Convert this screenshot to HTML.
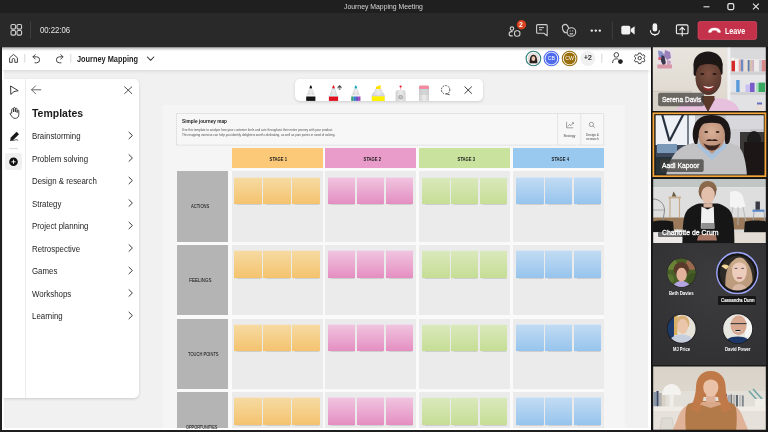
<!DOCTYPE html>
<html><head><meta charset="utf-8">
<style>
*{margin:0;padding:0;box-sizing:border-box}
html,body{width:768px;height:432px;overflow:hidden;background:#1f1f1f;font-family:"Liberation Sans",Arial,sans-serif}
.a{position:absolute}
#title{left:0;top:0;width:768px;height:13px;background:#1f1f1f}
#tb{left:0;top:13px;width:768px;height:34px;background:#292929}
.t{position:absolute;white-space:nowrap;line-height:1;transform-origin:0 0}
#wb{left:2px;top:47px;width:649px;height:382.5px;background:#fff;overflow:hidden}
#cv{left:4.2px;top:70px;width:644.2px;height:357.6px;background:#f1f1f1;overflow:hidden}
#cvi{left:-4.2px;top:-70px;width:768px;height:432px}
#wbi{left:-2px;top:-47px;width:768px;height:432px}
#wbbar{left:2px;top:47px;width:649px;height:23px;background:#fff;box-shadow:0 1px 4px rgba(0,0,0,.12)}
.li{position:absolute;left:31.7px;font-size:8.8px;color:#242424;white-space:nowrap;line-height:1;transform-origin:0 0;transform:scaleX(.895)}
.sn{position:absolute;width:27.5px;height:27.7px}
</style></head><body>

<div id="title" class="a">
  <div class="t" style="left:344.3px;top:2.9px;font-size:8px;color:#d6d6d6;transform:scaleX(.857)">Journey Mapping Meeting</div>
  <svg class="a" style="left:700px;top:0" width="68" height="13" viewBox="0 0 68 13">
    <path d="M3.5 6.8h6" stroke="#e6e6e6" stroke-width="1.1"/>
    <rect x="27.9" y="3.7" width="5.8" height="5.8" rx="1.2" fill="none" stroke="#e6e6e6" stroke-width="1.25"/>
    <path d="M53 3.6l5.8 5.8M58.8 3.6l-5.8 5.8" stroke="#e6e6e6" stroke-width="1.1"/>
  </svg>
</div>
<div id="tb" class="a">
  <svg class="a" style="left:0;top:0" width="768" height="34" viewBox="0 13 768 34">
    <!-- grid icon -->
    <g fill="none" stroke="#d0d0d0" stroke-width="1.1">
      <rect x="11" y="24.5" width="4.6" height="4.6" rx="1.3"/>
      <rect x="17" y="24.5" width="4.6" height="4.6" rx="1.3"/>
      <rect x="11" y="30.5" width="4.6" height="4.6" rx="1.3"/>
      <rect x="17" y="30.5" width="4.6" height="4.6" rx="1.3"/>
    </g>
    <path d="M30.5 21.5v17" stroke="#3f3f3f" stroke-width="1"/>
    <!-- participants -->
    <g fill="none" stroke="#cfcfcf" stroke-width="1.1">
      <circle cx="512" cy="28.6" r="1.75"/>
      <path d="M512.6 31.6h-1.2c-1.4 0-2.3 0.9-2.3 2.2v0.1c0 1.3 1 2 2.4 2h1.2"/>
      <rect x="514.5" y="30.8" width="5.4" height="5.4" rx="2.2"/>
    </g>
    <circle cx="521.5" cy="24.8" r="5.6" fill="#292929"/>
    <circle cx="521.5" cy="24.8" r="4.7" fill="#d9401f"/>
    <!-- chat -->
    <g fill="none" stroke="#cfcfcf" stroke-width="1.1">
      <path d="M537.6 24.6h8.6a1 1 0 0 1 1 1v10.2l-3.4-2.6h-6.2a1 1 0 0 1-1-1v-6.6a1 1 0 0 1 1-1z" stroke-linejoin="round"/>
      <path d="M539 27.6h5M539 29.8h3.2" stroke-width="1"/>
    </g>
    <!-- reactions -->
    <g fill="none" stroke="#cfcfcf" stroke-width="1.1">
      <ellipse cx="565.6" cy="28.6" rx="3" ry="4.2" transform="rotate(-18 565.6 28.6)"/>
      <circle cx="571.4" cy="32" r="4.3" fill="#292929"/>
      <path d="M569.7 33.5c1.1 0.7 2.3 0.7 3.4 0"/>
    </g>
    <circle cx="570.1" cy="30.9" r="0.55" fill="#cfcfcf"/><circle cx="572.7" cy="30.9" r="0.55" fill="#cfcfcf"/>
    <!-- more -->
    <g fill="#ececec"><circle cx="591.8" cy="30.6" r="1.2"/><circle cx="595.8" cy="30.6" r="1.2"/><circle cx="599.8" cy="30.6" r="1.2"/></g>
    <path d="M612.3 21.8v17.6" stroke="#3f3f3f" stroke-width="1"/>
    <!-- camera -->
    <rect x="621.3" y="25.8" width="9" height="8.6" rx="1.6" fill="#f2f2f2"/>
    <path d="M630.8 29l3.8-2.8v8.2l-3.8-2.8z" fill="#f2f2f2"/>
    <!-- mic -->
    <rect x="652.6" y="23.2" width="4.6" height="8.4" rx="2.3" fill="#f2f2f2"/>
    <path d="M650.4 30.2c0 3 2 4.4 4.5 4.4s4.5-1.4 4.5-4.4M654.9 34.6v1.4" fill="none" stroke="#f2f2f2" stroke-width="1.1"/>
    <!-- share -->
    <g fill="none" stroke="#f2f2f2" stroke-width="1.1">
      <rect x="676.4" y="24.9" width="11.6" height="8.8" rx="1.3"/>
      <path d="M682.2 36.2v-8.6M679.5 30.1l2.7-2.7 2.7 2.7"/>
    </g>
    <!-- leave -->
    <rect x="697.2" y="20.9" width="60.2" height="19.2" rx="2.4" fill="#161c1c"/><rect x="698" y="21.6" width="58.7" height="17.8" rx="1.8" fill="#c4314b" stroke="#d94a62" stroke-width="0.8"/>
    <path d="M708.6 31.4c0.2-1.8 2.6-3.3 5.9-3.3s5.7 1.5 5.9 3.3l-0.2 1.2-2.8-0.5-0.3-1.5c-1.7-0.6-3.5-0.6-5.2 0l-0.3 1.5-2.8 0.5z" fill="#fff" stroke="#fff" stroke-width="0.5" stroke-linejoin="round"/>
  </svg>
  <div class="t" style="left:39.9px;top:12.5px;font-size:8.6px;color:#e8e8e8;transform:scaleX(.9)">00:22:06</div>
  <div class="t" style="left:519px;top:9px;font-size:6.9px;font-weight:bold;color:#fff">2</div>
  <div class="t" style="left:725.2px;top:13.9px;font-size:8.7px;font-weight:bold;color:#fff;transform:scaleX(.82)">Leave</div>
</div>

<div id="wb" class="a"><div id="wbi" class="a">
<div id="cv" class="a"><div id="cvi" class="a">

<div class="a" style="left:163.4px;top:104.5px;width:461.6px;height:330px;background:#f5f5f5"></div>
<div class="a" style="left:231.6px;top:148.4px;width:372.6px;height:300px;background:#fafafa"></div>
<div class="a" style="left:176.7px;top:171.4px;width:427.5px;height:300px;background:#fafafa"></div>
<svg class="a" style="left:175px;top:112px" width="431" height="35" viewBox="175 112 431 35">
<rect x="176.5" y="113.5" width="427.2" height="31.6" fill="#f7f7f7" stroke="#cacaca" stroke-width="0.6" stroke-dasharray="1.4 0.6"/>
<path d="M557.6 113.5v31.6M580.8 113.5v31.6" stroke="#cacaca" stroke-width="0.6" stroke-dasharray="1.4 0.6"/>
</svg>
<div class="a" style="left:231.6px;top:148.4px;width:91.0px;height:19.7px;background:#fbc978"></div>
<div class="t" style="left:233.2px;top:156.5px;width:91.0px;text-align:center;font-size:5.4px;font-weight:bold;color:#1a1a1a"><span style="display:inline-block;transform:scaleX(.77)">STAGE 1</span></div>
<div class="a" style="left:231.6px;top:171.4px;width:91.0px;height:70.2px;background:#ebebeb"></div>
<div class="sn" style="left:234.4px;top:176.6px;background:linear-gradient(#f6dba4,#f4c36e);box-shadow:0 0.6px 0.8px rgba(0,0,0,.12),inset 0 0.7px 0 rgba(235,240,255,.7)"></div>
<div class="sn" style="left:263.3px;top:176.6px;background:linear-gradient(#f6dba4,#f4c36e);box-shadow:0 0.6px 0.8px rgba(0,0,0,.12),inset 0 0.7px 0 rgba(235,240,255,.7)"></div>
<div class="sn" style="left:292.3px;top:176.6px;background:linear-gradient(#f6dba4,#f4c36e);box-shadow:0 0.6px 0.8px rgba(0,0,0,.12),inset 0 0.7px 0 rgba(235,240,255,.7)"></div>
<div class="a" style="left:231.6px;top:244.9px;width:91.0px;height:70.2px;background:#ebebeb"></div>
<div class="sn" style="left:234.4px;top:250.1px;background:linear-gradient(#f6dba4,#f4c36e);box-shadow:0 0.6px 0.8px rgba(0,0,0,.12),inset 0 0.7px 0 rgba(235,240,255,.7)"></div>
<div class="sn" style="left:263.3px;top:250.1px;background:linear-gradient(#f6dba4,#f4c36e);box-shadow:0 0.6px 0.8px rgba(0,0,0,.12),inset 0 0.7px 0 rgba(235,240,255,.7)"></div>
<div class="sn" style="left:292.3px;top:250.1px;background:linear-gradient(#f6dba4,#f4c36e);box-shadow:0 0.6px 0.8px rgba(0,0,0,.12),inset 0 0.7px 0 rgba(235,240,255,.7)"></div>
<div class="a" style="left:231.6px;top:318.6px;width:91.0px;height:70.2px;background:#ebebeb"></div>
<div class="sn" style="left:234.4px;top:323.8px;background:linear-gradient(#f6dba4,#f4c36e);box-shadow:0 0.6px 0.8px rgba(0,0,0,.12),inset 0 0.7px 0 rgba(235,240,255,.7)"></div>
<div class="sn" style="left:263.3px;top:323.8px;background:linear-gradient(#f6dba4,#f4c36e);box-shadow:0 0.6px 0.8px rgba(0,0,0,.12),inset 0 0.7px 0 rgba(235,240,255,.7)"></div>
<div class="sn" style="left:292.3px;top:323.8px;background:linear-gradient(#f6dba4,#f4c36e);box-shadow:0 0.6px 0.8px rgba(0,0,0,.12),inset 0 0.7px 0 rgba(235,240,255,.7)"></div>
<div class="a" style="left:231.6px;top:392.2px;width:91.0px;height:70.2px;background:#ebebeb"></div>
<div class="sn" style="left:234.4px;top:397.4px;background:linear-gradient(#f6dba4,#f4c36e);box-shadow:0 0.6px 0.8px rgba(0,0,0,.12),inset 0 0.7px 0 rgba(235,240,255,.7)"></div>
<div class="sn" style="left:263.3px;top:397.4px;background:linear-gradient(#f6dba4,#f4c36e);box-shadow:0 0.6px 0.8px rgba(0,0,0,.12),inset 0 0.7px 0 rgba(235,240,255,.7)"></div>
<div class="sn" style="left:292.3px;top:397.4px;background:linear-gradient(#f6dba4,#f4c36e);box-shadow:0 0.6px 0.8px rgba(0,0,0,.12),inset 0 0.7px 0 rgba(235,240,255,.7)"></div>
<div class="a" style="left:325.0px;top:148.4px;width:91.0px;height:19.7px;background:#e99bc9"></div>
<div class="t" style="left:326.6px;top:156.5px;width:91.0px;text-align:center;font-size:5.4px;font-weight:bold;color:#1a1a1a"><span style="display:inline-block;transform:scaleX(.77)">STAGE 2</span></div>
<div class="a" style="left:325.0px;top:171.4px;width:91.0px;height:70.2px;background:#ebebeb"></div>
<div class="sn" style="left:327.8px;top:176.6px;background:linear-gradient(#f1c6e0,#e48ec1);box-shadow:0 0.6px 0.8px rgba(0,0,0,.12),inset 0 0.7px 0 rgba(235,240,255,.7)"></div>
<div class="sn" style="left:356.7px;top:176.6px;background:linear-gradient(#f1c6e0,#e48ec1);box-shadow:0 0.6px 0.8px rgba(0,0,0,.12),inset 0 0.7px 0 rgba(235,240,255,.7)"></div>
<div class="sn" style="left:385.7px;top:176.6px;background:linear-gradient(#f1c6e0,#e48ec1);box-shadow:0 0.6px 0.8px rgba(0,0,0,.12),inset 0 0.7px 0 rgba(235,240,255,.7)"></div>
<div class="a" style="left:325.0px;top:244.9px;width:91.0px;height:70.2px;background:#ebebeb"></div>
<div class="sn" style="left:327.8px;top:250.1px;background:linear-gradient(#f1c6e0,#e48ec1);box-shadow:0 0.6px 0.8px rgba(0,0,0,.12),inset 0 0.7px 0 rgba(235,240,255,.7)"></div>
<div class="sn" style="left:356.7px;top:250.1px;background:linear-gradient(#f1c6e0,#e48ec1);box-shadow:0 0.6px 0.8px rgba(0,0,0,.12),inset 0 0.7px 0 rgba(235,240,255,.7)"></div>
<div class="sn" style="left:385.7px;top:250.1px;background:linear-gradient(#f1c6e0,#e48ec1);box-shadow:0 0.6px 0.8px rgba(0,0,0,.12),inset 0 0.7px 0 rgba(235,240,255,.7)"></div>
<div class="a" style="left:325.0px;top:318.6px;width:91.0px;height:70.2px;background:#ebebeb"></div>
<div class="sn" style="left:327.8px;top:323.8px;background:linear-gradient(#f1c6e0,#e48ec1);box-shadow:0 0.6px 0.8px rgba(0,0,0,.12),inset 0 0.7px 0 rgba(235,240,255,.7)"></div>
<div class="sn" style="left:356.7px;top:323.8px;background:linear-gradient(#f1c6e0,#e48ec1);box-shadow:0 0.6px 0.8px rgba(0,0,0,.12),inset 0 0.7px 0 rgba(235,240,255,.7)"></div>
<div class="sn" style="left:385.7px;top:323.8px;background:linear-gradient(#f1c6e0,#e48ec1);box-shadow:0 0.6px 0.8px rgba(0,0,0,.12),inset 0 0.7px 0 rgba(235,240,255,.7)"></div>
<div class="a" style="left:325.0px;top:392.2px;width:91.0px;height:70.2px;background:#ebebeb"></div>
<div class="sn" style="left:327.8px;top:397.4px;background:linear-gradient(#f1c6e0,#e48ec1);box-shadow:0 0.6px 0.8px rgba(0,0,0,.12),inset 0 0.7px 0 rgba(235,240,255,.7)"></div>
<div class="sn" style="left:356.7px;top:397.4px;background:linear-gradient(#f1c6e0,#e48ec1);box-shadow:0 0.6px 0.8px rgba(0,0,0,.12),inset 0 0.7px 0 rgba(235,240,255,.7)"></div>
<div class="sn" style="left:385.7px;top:397.4px;background:linear-gradient(#f1c6e0,#e48ec1);box-shadow:0 0.6px 0.8px rgba(0,0,0,.12),inset 0 0.7px 0 rgba(235,240,255,.7)"></div>
<div class="a" style="left:419.2px;top:148.4px;width:91.0px;height:19.7px;background:#c9e29d"></div>
<div class="t" style="left:420.8px;top:156.5px;width:91.0px;text-align:center;font-size:5.4px;font-weight:bold;color:#1a1a1a"><span style="display:inline-block;transform:scaleX(.77)">STAGE 3</span></div>
<div class="a" style="left:419.2px;top:171.4px;width:91.0px;height:70.2px;background:#ebebeb"></div>
<div class="sn" style="left:422.0px;top:176.6px;background:linear-gradient(#dbe9bd,#c5de95);box-shadow:0 0.6px 0.8px rgba(0,0,0,.12),inset 0 0.7px 0 rgba(235,240,255,.7)"></div>
<div class="sn" style="left:450.9px;top:176.6px;background:linear-gradient(#dbe9bd,#c5de95);box-shadow:0 0.6px 0.8px rgba(0,0,0,.12),inset 0 0.7px 0 rgba(235,240,255,.7)"></div>
<div class="sn" style="left:479.9px;top:176.6px;background:linear-gradient(#dbe9bd,#c5de95);box-shadow:0 0.6px 0.8px rgba(0,0,0,.12),inset 0 0.7px 0 rgba(235,240,255,.7)"></div>
<div class="a" style="left:419.2px;top:244.9px;width:91.0px;height:70.2px;background:#ebebeb"></div>
<div class="sn" style="left:422.0px;top:250.1px;background:linear-gradient(#dbe9bd,#c5de95);box-shadow:0 0.6px 0.8px rgba(0,0,0,.12),inset 0 0.7px 0 rgba(235,240,255,.7)"></div>
<div class="sn" style="left:450.9px;top:250.1px;background:linear-gradient(#dbe9bd,#c5de95);box-shadow:0 0.6px 0.8px rgba(0,0,0,.12),inset 0 0.7px 0 rgba(235,240,255,.7)"></div>
<div class="sn" style="left:479.9px;top:250.1px;background:linear-gradient(#dbe9bd,#c5de95);box-shadow:0 0.6px 0.8px rgba(0,0,0,.12),inset 0 0.7px 0 rgba(235,240,255,.7)"></div>
<div class="a" style="left:419.2px;top:318.6px;width:91.0px;height:70.2px;background:#ebebeb"></div>
<div class="sn" style="left:422.0px;top:323.8px;background:linear-gradient(#dbe9bd,#c5de95);box-shadow:0 0.6px 0.8px rgba(0,0,0,.12),inset 0 0.7px 0 rgba(235,240,255,.7)"></div>
<div class="sn" style="left:450.9px;top:323.8px;background:linear-gradient(#dbe9bd,#c5de95);box-shadow:0 0.6px 0.8px rgba(0,0,0,.12),inset 0 0.7px 0 rgba(235,240,255,.7)"></div>
<div class="sn" style="left:479.9px;top:323.8px;background:linear-gradient(#dbe9bd,#c5de95);box-shadow:0 0.6px 0.8px rgba(0,0,0,.12),inset 0 0.7px 0 rgba(235,240,255,.7)"></div>
<div class="a" style="left:419.2px;top:392.2px;width:91.0px;height:70.2px;background:#ebebeb"></div>
<div class="sn" style="left:422.0px;top:397.4px;background:linear-gradient(#dbe9bd,#c5de95);box-shadow:0 0.6px 0.8px rgba(0,0,0,.12),inset 0 0.7px 0 rgba(235,240,255,.7)"></div>
<div class="sn" style="left:450.9px;top:397.4px;background:linear-gradient(#dbe9bd,#c5de95);box-shadow:0 0.6px 0.8px rgba(0,0,0,.12),inset 0 0.7px 0 rgba(235,240,255,.7)"></div>
<div class="sn" style="left:479.9px;top:397.4px;background:linear-gradient(#dbe9bd,#c5de95);box-shadow:0 0.6px 0.8px rgba(0,0,0,.12),inset 0 0.7px 0 rgba(235,240,255,.7)"></div>
<div class="a" style="left:513.2px;top:148.4px;width:91.0px;height:19.7px;background:#9ac9ef"></div>
<div class="t" style="left:514.8000000000001px;top:156.5px;width:91.0px;text-align:center;font-size:5.4px;font-weight:bold;color:#1a1a1a"><span style="display:inline-block;transform:scaleX(.77)">STAGE 4</span></div>
<div class="a" style="left:513.2px;top:171.4px;width:91.0px;height:70.2px;background:#ebebeb"></div>
<div class="sn" style="left:516.0px;top:176.6px;background:linear-gradient(#c3dcf3,#96c4ed);box-shadow:0 0.6px 0.8px rgba(0,0,0,.12),inset 0 0.7px 0 rgba(235,240,255,.7)"></div>
<div class="sn" style="left:544.9px;top:176.6px;background:linear-gradient(#c3dcf3,#96c4ed);box-shadow:0 0.6px 0.8px rgba(0,0,0,.12),inset 0 0.7px 0 rgba(235,240,255,.7)"></div>
<div class="sn" style="left:573.9px;top:176.6px;background:linear-gradient(#c3dcf3,#96c4ed);box-shadow:0 0.6px 0.8px rgba(0,0,0,.12),inset 0 0.7px 0 rgba(235,240,255,.7)"></div>
<div class="a" style="left:513.2px;top:244.9px;width:91.0px;height:70.2px;background:#ebebeb"></div>
<div class="sn" style="left:516.0px;top:250.1px;background:linear-gradient(#c3dcf3,#96c4ed);box-shadow:0 0.6px 0.8px rgba(0,0,0,.12),inset 0 0.7px 0 rgba(235,240,255,.7)"></div>
<div class="sn" style="left:544.9px;top:250.1px;background:linear-gradient(#c3dcf3,#96c4ed);box-shadow:0 0.6px 0.8px rgba(0,0,0,.12),inset 0 0.7px 0 rgba(235,240,255,.7)"></div>
<div class="sn" style="left:573.9px;top:250.1px;background:linear-gradient(#c3dcf3,#96c4ed);box-shadow:0 0.6px 0.8px rgba(0,0,0,.12),inset 0 0.7px 0 rgba(235,240,255,.7)"></div>
<div class="a" style="left:513.2px;top:318.6px;width:91.0px;height:70.2px;background:#ebebeb"></div>
<div class="sn" style="left:516.0px;top:323.8px;background:linear-gradient(#c3dcf3,#96c4ed);box-shadow:0 0.6px 0.8px rgba(0,0,0,.12),inset 0 0.7px 0 rgba(235,240,255,.7)"></div>
<div class="sn" style="left:544.9px;top:323.8px;background:linear-gradient(#c3dcf3,#96c4ed);box-shadow:0 0.6px 0.8px rgba(0,0,0,.12),inset 0 0.7px 0 rgba(235,240,255,.7)"></div>
<div class="sn" style="left:573.9px;top:323.8px;background:linear-gradient(#c3dcf3,#96c4ed);box-shadow:0 0.6px 0.8px rgba(0,0,0,.12),inset 0 0.7px 0 rgba(235,240,255,.7)"></div>
<div class="a" style="left:513.2px;top:392.2px;width:91.0px;height:70.2px;background:#ebebeb"></div>
<div class="sn" style="left:516.0px;top:397.4px;background:linear-gradient(#c3dcf3,#96c4ed);box-shadow:0 0.6px 0.8px rgba(0,0,0,.12),inset 0 0.7px 0 rgba(235,240,255,.7)"></div>
<div class="sn" style="left:544.9px;top:397.4px;background:linear-gradient(#c3dcf3,#96c4ed);box-shadow:0 0.6px 0.8px rgba(0,0,0,.12),inset 0 0.7px 0 rgba(235,240,255,.7)"></div>
<div class="sn" style="left:573.9px;top:397.4px;background:linear-gradient(#c3dcf3,#96c4ed);box-shadow:0 0.6px 0.8px rgba(0,0,0,.12),inset 0 0.7px 0 rgba(235,240,255,.7)"></div>
<div class="a" style="left:176.7px;top:171.4px;width:51.8px;height:70.2px;background:#b4b4b4"></div>
<div class="t" style="left:174.60px;top:205.4px;width:51.8px;text-align:center;font-size:4.6px;color:#0a0a0a"><span style="display:inline-block;transform:scaleX(0.89)">ACTIONS</span></div>
<div class="a" style="left:176.7px;top:244.9px;width:51.8px;height:70.2px;background:#b4b4b4"></div>
<div class="t" style="left:174.90px;top:278.9px;width:51.8px;text-align:center;font-size:4.6px;color:#0a0a0a"><span style="display:inline-block;transform:scaleX(0.97)">FEELINGS</span></div>
<div class="a" style="left:176.7px;top:318.6px;width:51.8px;height:70.2px;background:#b4b4b4"></div>
<div class="t" style="left:177.70px;top:352.6px;width:51.8px;text-align:center;font-size:4.6px;color:#0a0a0a"><span style="display:inline-block;transform:scaleX(0.88)">TOUCH POINTS</span></div>
<div class="a" style="left:176.7px;top:392.2px;width:51.8px;height:70.2px;background:#b4b4b4"></div>
</div></div>
<div class="t" style="left:175.70px;top:426.2px;width:51.8px;text-align:center;font-size:4.6px;color:#0a0a0a"><span style="display:inline-block;transform:scaleX(0.84)">OPPORTUNITIES</span></div>

  <div id="wbbar" class="a">
    <svg class="a" style="left:0;top:0" width="649" height="23" viewBox="2 47 649 23">
      <path d="M9.6 62.4v-4.6l3.9-3.4 3.9 3.4v4.6h-2.6v-2.6a1.3 1.3 0 0 0-2.6 0v2.6z" fill="none" stroke="#444" stroke-width="1" stroke-linejoin="round"/>
      <path d="M24.8 54v8.6" stroke="#d6d6d6" stroke-width="1"/>
      <path d="M35.2 54.6l-2.2 2.2 2.2 2.2M33.2 56.8h3.4a3 3 0 0 1 0 6h-1.6" fill="none" stroke="#444" stroke-width="1" stroke-linecap="round" stroke-linejoin="round"/>
      <path d="M60.8 54.6l2.2 2.2-2.2 2.2M62.8 56.8h-3.4a3 3 0 0 0 0 6h1.6" fill="none" stroke="#444" stroke-width="1" stroke-linecap="round" stroke-linejoin="round"/>
      <path d="M70.8 54v8.6" stroke="#d6d6d6" stroke-width="1"/>
      <path d="M147.4 57l3.2 3.3 3.2-3.3" fill="none" stroke="#333" stroke-width="1.05" stroke-linecap="round" stroke-linejoin="round"/>
      <circle cx="533.4" cy="58.5" r="7.3" fill="#fff" stroke="#2e7d7a" stroke-width="1.1"/>
      <circle cx="533.4" cy="58.5" r="5.9" fill="#e8e0dc"/>
      <path d="M529.5 63.3c0-4 0.6-8.4 3.9-8.6 3.3 0.2 3.9 4.6 3.9 8.6z" fill="#2a2020"/>
      <ellipse cx="533.4" cy="58.7" rx="1.9" ry="2.4" fill="#e9c4b0"/>
      <circle cx="551.4" cy="58.5" r="7.3" fill="#fff" stroke="#4f6bed" stroke-width="1.1"/>
      <circle cx="551.4" cy="58.5" r="5.9" fill="#4f6bed"/>
      <circle cx="569.6" cy="58.5" r="7.3" fill="#fff" stroke="#986f0b" stroke-width="1.1"/>
      <circle cx="569.6" cy="58.5" r="5.9" fill="#986f0b"/>
      <circle cx="587.8" cy="58.5" r="7.6" fill="#f0f0f0"/>
      <path d="M601.8 53.6v9.2" stroke="#d6d6d6" stroke-width="1"/>
      <g fill="none" stroke="#444" stroke-width="1">
        <circle cx="616.3" cy="54.9" r="2.3"/>
        <path d="M612.6 63c0-2.7 1.3-4.2 3.7-4.2 0.9 0 1.5 0.2 2 0.5"/>
      </g>
      <circle cx="620.4" cy="61.6" r="2.4" fill="#222"/>
      <g fill="none" stroke="#444" stroke-width="1">
        <circle cx="639.7" cy="58.1" r="1.7"/>
        <path d="M638.6 53.1h2.2l0.4 1.4 1.3 0.7 1.4-0.5 1.1 1.9-1.1 1v1.5l1.1 1-1.1 1.9-1.4-0.5-1.3 0.7-0.4 1.4h-2.2l-0.4-1.4-1.3-0.7-1.4 0.5-1.1-1.9 1.1-1v-1.5l-1.1-1 1.1-1.9 1.4 0.5 1.3-0.7z" stroke-linejoin="round"/>
      </g>
    </svg>
    <div class="t" style="left:75px;top:7.9px;font-size:8.4px;font-weight:bold;color:#242424;transform:scaleX(.88)">Journey Mapping</div>
    <div class="t" style="left:542.4px;top:8.8px;width:14px;text-align:center;font-size:5.2px;color:#fff">CB</div>
    <div class="t" style="left:560.6px;top:8.8px;width:14px;text-align:center;font-size:5.2px;color:#fff">CW</div>
    <div class="t" style="left:578.8px;top:8.2px;width:14px;text-align:center;font-size:6.6px;color:#222;-webkit-text-stroke:0.2px #222">+2</div>
  </div>

  <!-- header box texts -->
  <div class="t" style="left:182px;top:119.1px;font-size:5.8px;font-weight:bold;color:#222;transform:scaleX(.817)">Simple journey map</div>
  <div class="t" style="left:182px;top:127.9px;font-size:3.5px;color:#505050;line-height:4.7px;transform:scaleX(.871)">Use this template to analyze how your customer feels and acts throughout their entire journey with your product.<br>This mapping exercise can help you identify delighters worth celebrating, as well as pain points in need of solving.</div>
  <svg class="a" style="left:557px;top:113px" width="47" height="33" viewBox="557 113 47 33">
    <g fill="none" stroke="#666" stroke-width="0.6">
      <path d="M566.6 121.8v6h6.6"/><path d="M567.6 126.4l2-2 1.4 1.2 2.2-2.6"/><path d="M572 122.6h1.4v1.4"/>
      <circle cx="591.4" cy="124.4" r="2.1"/><path d="M592.9 125.9l1.8 1.8"/>
    </g>
  </svg>
  <div class="t" style="left:557.8px;top:134.9px;width:23.2px;text-align:center;font-size:3.2px;color:#444">Strategy</div>
  <div class="t" style="left:581px;top:132.6px;width:23px;text-align:center;font-size:3.2px;color:#444;line-height:4.3px">Design &amp;<br>research</div>

  <!-- left panel -->
  <div class="a" style="left:3px;top:79px;width:136.4px;height:319.4px;background:#fff;border-radius:0 5px 5px 0;box-shadow:0 1px 3px rgba(0,0,0,.16)"></div>
  <div class="a" style="left:25.4px;top:79px;width:1px;height:319.4px;background:#ececec"></div>
  <div class="a" style="left:5px;top:153px;width:17px;height:17px;background:#f0f0f0;border-radius:2px"></div>
  <svg class="a" style="left:0;top:70px" width="145" height="110" viewBox="0 70 145 110">
    <!-- cursor -->
    <path d="M10.6 86l7.6 4.7-4.2 0.9-3.2 2.8z" fill="none" stroke="#333" stroke-width="0.95" stroke-linejoin="round"/>
    <!-- hand -->
    <path d="M11.7 113.2v-3.6a0.9 0.9 0 0 1 1.8 0v2.4-3.6a0.9 0.9 0 0 1 1.8 0v3.6-2.8a0.9 0.9 0 0 1 1.8 0v3.4-1.8a0.9 0.9 0 0 1 1.7 0v3.6c0 2.4-1.4 4-3.6 4-1.8 0-2.6-0.8-3.6-2.2l-1.4-2.2a0.9 0.9 0 0 1 1.4-1z" fill="none" stroke="#333" stroke-width="0.9" stroke-linejoin="round"/>
    <!-- pen -->
    <path d="M10.8 137.6l5.8-5.8 2.4 2.4-5.8 5.8-3 0.7z" fill="#1a1a1a"/>
    <path d="M10 140.6c1.6-1 3 0.6 4.6-0.4s2.4-0.4 3.6 0.2" fill="none" stroke="#222" stroke-width="0.8"/>
    <path d="M9.2 148.6h8.8" stroke="#d8d8d8" stroke-width="1"/>
    <!-- plus -->
    <circle cx="13.5" cy="161.8" r="4.3" fill="#111"/>
    <path d="M11.4 161.8h4.2M13.5 159.7v4.2" stroke="#fff" stroke-width="0.9"/>
    <!-- back arrow -->
    <path d="M31.6 89.8h9.2M35.5 85.9l-3.9 3.9 3.9 3.9" fill="none" stroke="#555" stroke-width="0.9" stroke-linecap="round" stroke-linejoin="round"/>
    <!-- close -->
    <path d="M124.6 86.8l7.2 6.8M131.8 86.8l-7.2 6.8" stroke="#444" stroke-width="0.95" stroke-linecap="round"/>
  </svg>
  <div class="t" style="left:31.7px;top:107.5px;font-size:10.8px;font-weight:bold;color:#1a1a1a;transform:scaleX(.97)">Templates</div>
  <div class="li" style="top:132.0px">Brainstorming</div>
  <div class="li" style="top:154.5px">Problem solving</div>
  <div class="li" style="top:177.0px">Design &amp; research</div>
  <div class="li" style="top:199.5px">Strategy</div>
  <div class="li" style="top:222.0px">Project planning</div>
  <div class="li" style="top:244.5px">Retrospective</div>
  <div class="li" style="top:267.0px">Games</div>
  <div class="li" style="top:289.5px">Workshops</div>
  <div class="li" style="top:312.0px">Learning</div>
  <svg class="a" style="left:120px;top:125px" width="20" height="200" viewBox="120 125 20 200">
    <g fill="none" stroke="#333" stroke-width="0.95" stroke-linecap="round" stroke-linejoin="round">
      <path d="M129 132.2l3.4 3.3-3.4 3.3"/>
      <path d="M129 154.7l3.4 3.3-3.4 3.3"/>
      <path d="M129 177.2l3.4 3.3-3.4 3.3"/>
      <path d="M129 199.7l3.4 3.3-3.4 3.3"/>
      <path d="M129 222.2l3.4 3.3-3.4 3.3"/>
      <path d="M129 244.7l3.4 3.3-3.4 3.3"/>
      <path d="M129 267.2l3.4 3.3-3.4 3.3"/>
      <path d="M129 289.7l3.4 3.3-3.4 3.3"/>
      <path d="M129 312.2l3.4 3.3-3.4 3.3"/>
    </g>
  </svg>

  <!-- pen toolbar -->
  <div class="a" style="left:294.6px;top:79px;width:188.8px;height:22.2px;background:#fff;border-radius:5px;box-shadow:0 1px 3px rgba(0,0,0,.15);overflow:hidden">
    <svg class="a" style="left:0;top:0" width="189" height="23" viewBox="294.6 79 189 23"><defs><linearGradient id="cone" x1="0" x2="1" y1="0" y2="0"><stop offset="0" stop-color="#cfcfcf"/><stop offset=".5" stop-color="#ececec"/><stop offset="1" stop-color="#d2d2d2"/></linearGradient></defs>
      <!-- black pen -->
      <path d="M309.1 88.8c0.1-1.6 0.6-3.2 1.3-3.5 0.7 0.3 1.2 1.9 1.3 3.5z" fill="#111"/>
      <path d="M308.7 88.8h3.4l2 6.2h-7.4z" fill="url(#cone)"/>
      <path d="M308.8 88.8h3.2l0.4 0.8h-4z" fill="#f2f2f2"/>
      <rect x="305.6" y="95" width="9.6" height="1.4" fill="#f4f4f4"/>
      <rect x="305.8" y="96.5" width="9.2" height="4.4" fill="#141414"/>
<!-- red pen -->
      <path d="M331.8 88.8c0.1-1.6 0.6-3.2 1.3-3.5 0.7 0.3 1.2 1.9 1.3 3.5z" fill="#e81123"/>
      <path d="M331.4 88.8h3.4l2 6.2h-7.4z" fill="url(#cone)"/>
      <path d="M331.5 88.8h3.2l0.4 0.8h-4z" fill="#bff0f0"/>
      <rect x="328.3" y="95" width="9.6" height="1.4" fill="#c8f4f4"/>
      <rect x="328.5" y="96.5" width="9.2" height="4.4" fill="#e0101e"/>
<path d="M337 87.2l2.2-2.2 2.2 2.2z" fill="#444"/><rect x="337" y="87.4" width="4.4" height="0.8" fill="#444"/><rect x="338.4" y="88.6" width="1.6" height="1.2" fill="#666"/>
      <!-- rainbow pen -->
      <path d="M354.1 88.8c0.1-1.6 0.6-3.2 1.3-3.5 0.7 0.3 1.2 1.9 1.3 3.5z" fill="#19a5b8"/>
      <path d="M353.7 88.8h3.4l2 6.2h-7.4z" fill="url(#cone)"/>
      <path d="M353.8 88.8h3.2l0.4 0.8h-4z" fill="#e0f0f0"/>
      <rect x="350.6" y="95" width="9.6" height="1.4" fill="#f0f0f0"/>
      <rect x="350.80" y="96.5" width="2.35" height="4.4" fill="#3aa070"/>
      <rect x="353.10" y="96.5" width="2.35" height="4.4" fill="#2f7fd0"/>
      <rect x="355.40" y="96.5" width="2.35" height="4.4" fill="#6a52c8"/>
      <rect x="357.70" y="96.5" width="2.35" height="4.4" fill="#a04ab8"/>
      <!-- highlighter -->
      <path d="M375.4 89.2l0.3-2.4 4.6-1.8v4.2z" fill="#ffe100"/>
      <path d="M374.6 89h6.8l0.4 3c1.6 0.8 2.4 2 2.4 3.6v5.8h-12.8v-5.8c0-1.6 0.8-2.8 2.4-3.6z" fill="url(#cone)"/>
      <rect x="371.4" y="95.4" width="12.8" height="0.9" fill="#c8c8f8"/>
      <rect x="371.4" y="96.3" width="12.8" height="5" fill="#fff200"/>
      <!-- laser -->
      <circle cx="400.2" cy="86.6" r="1.1" fill="#e81123"/>
      <path d="M400.2 87.6v2.2" stroke="#f4a0a8" stroke-width="0.8"/>
      <path d="M395.2 101.4v-9c0-1.4 1-2.4 2.4-2.4h5.2c1.4 0 2.4 1 2.4 2.4v9z" fill="url(#cone)"/>
      <circle cx="400.2" cy="97.2" r="1.9" fill="#c8c8c8" stroke="#8a8a8a" stroke-width="0.6"/>
      <!-- eraser -->
      <path d="M418.6 89.6v-2.6c0-1 0.8-1.6 1.8-1.6h6.4c1 0 1.8 0.6 1.8 1.6v2.6z" fill="#f28aa0"/>
      <rect x="418.6" y="89.4" width="10" height="12" fill="url(#cone)"/>
      <rect x="418.6" y="89.4" width="10" height="0.9" fill="#a8d8d8"/>
      <rect x="418.6" y="90.3" width="10" height="4.6" fill="#c8c8c8" fill-opacity=".6"/>
      <!-- lasso -->
      <circle cx="445.2" cy="89.8" r="4.2" fill="none" stroke="#333" stroke-width="0.9" stroke-dasharray="1.6 1.1"/>
      <path d="M445.6 93.6l3.6 1.2" stroke="#333" stroke-width="0.9"/>
      <!-- close -->
      <path d="M464.4 86.8l6.8 6.6M471.2 86.8l-6.8 6.6" stroke="#333" stroke-width="0.95" stroke-linecap="round"/>
    </svg>
  </div>
<div class="a" style="left:2px;top:47px;width:649px;height:4.2px;background:linear-gradient(rgba(0,0,0,.5),rgba(0,0,0,.16) 42%,rgba(0,0,0,0))"></div>
</div></div>

<div class="a" style="left:651px;top:47px;width:2px;height:385px;background:#131313"></div>

<svg class="a" style="left:652px;top:47px" width="116" height="385" viewBox="652 47 116 385">
  <rect x="652" y="47" width="116" height="385" fill="#171717"/>
  <defs>
    <clipPath id="c1"><rect x="652.8" y="47.3" width="113" height="63.6"/></clipPath>
    <clipPath id="c2"><rect x="655.6" y="115.3" width="108.2" height="59.3"/></clipPath>
    <clipPath id="c3"><rect x="653.2" y="178.9" width="112.6" height="64"/></clipPath>
    <clipPath id="c5"><rect x="653.2" y="366.4" width="112.6" height="63.4"/></clipPath>
    <clipPath id="cb"><circle cx="681.5" cy="272.7" r="14.2"/></clipPath>
    <clipPath id="cc"><circle cx="737.3" cy="273.1" r="17.4"/></clipPath>
    <clipPath id="cm"><circle cx="681.6" cy="328.8" r="14"/></clipPath>
    <clipPath id="cd"><circle cx="737.7" cy="328.8" r="14.5"/></clipPath>
    <filter id="bl" x="-5%" y="-5%" width="110%" height="110%"><feGaussianBlur stdDeviation="0.55"/></filter>
    <filter id="bl2" x="-10%" y="-10%" width="120%" height="120%"><feGaussianBlur stdDeviation="1"/></filter>
    <radialGradient id="dk" cx="55%" cy="35%" r="75%"><stop offset="0" stop-color="#3c3b3e"/><stop offset="1" stop-color="#303032"/></radialGradient>
    <linearGradient id="w1" x1="0" y1="0" x2="0" y2="1"><stop offset="0" stop-color="#e9e5de"/><stop offset="1" stop-color="#dcd5cb"/></linearGradient>
    <radialGradient id="f1" cx="50%" cy="38%" r="62%"><stop offset="0" stop-color="#7e5242"/><stop offset="1" stop-color="#52332a"/></radialGradient>
    <radialGradient id="f2" cx="50%" cy="40%" r="60%"><stop offset="0" stop-color="#d8b098"/><stop offset="1" stop-color="#b88a72"/></radialGradient>
    <linearGradient id="w5" x1="0" y1="0" x2="0" y2="1"><stop offset="0" stop-color="#d8d2c8"/><stop offset="1" stop-color="#e4dfd6"/></linearGradient>
  </defs>

  <!-- ===== Tile 1: Serena Davis ===== -->
  <g clip-path="url(#c1)">
    <g filter="url(#bl)">
    <rect x="652" y="47" width="116" height="65" fill="url(#w1)"/>
    <rect x="652" y="90.8" width="40" height="1.2" fill="#cfc8be"/>
    <rect x="652" y="92" width="40" height="20" fill="#d8d1c7"/>
    <!-- poster -->
    <rect x="656.6" y="48.8" width="16.4" height="20.6" fill="#e8e0e4"/>
    <path d="M658 50.5l4 1 3 4-2 5-4-1z" fill="#8a90c8"/>
    <path d="M665 50l5 2 1 6-4 2-3-4z" fill="#9a80b8"/>
    <path d="M661.5 55l3 1.5 1.4 6.5-2.6 3-2.4-5z" fill="#3a3450"/>
    <path d="M667 60l4 1-1 6-3-1z" fill="#c8a0c0"/>
    <rect x="657.4" y="64.5" width="14.6" height="4" fill="#d898a8"/>
    <circle cx="659.6" cy="58.5" r="1.5" fill="#d86070"/>
    <!-- bookshelf -->
    <rect x="727.5" y="47" width="41" height="65" fill="#e6e6e8"/>
    <rect x="727.5" y="47" width="3" height="65" fill="#f2f2f3"/>
    <rect x="730.5" y="47" width="36" height="3" fill="#d8d8da"/>
    <rect x="730.5" y="50" width="36" height="9" fill="#dadadc"/>
    <rect x="731.5" y="60.5" width="3.6" height="11" fill="#d42a2a"/>
    <rect x="731.5" y="57.6" width="3" height="3" fill="#f4f4f4"/>
    <rect x="735.1" y="58.6" width="3.6" height="13" fill="#f0f0f0"/>
    <rect x="738.7" y="59.6" width="2.2" height="12" fill="#e8a8a8"/>
    <rect x="740.9" y="59.6" width="2.6" height="12" fill="#6a8ac0"/>
    <rect x="743.5" y="60" width="2" height="11.6" fill="#e8d8d8"/>
    <rect x="745.5" y="60" width="2.2" height="11.6" fill="#e8e0d0"/>
    <rect x="747.7" y="60" width="2" height="11.6" fill="#5a7ab0"/>
    <rect x="749.7" y="60" width="2.5" height="11.6" fill="#d8c0b0"/>
    <rect x="752.2" y="60" width="2" height="11.6" fill="#d0b0c0"/>
    <rect x="754.2" y="60" width="3" height="11.6" fill="#ececec"/>
    <rect x="757.2" y="60" width="2" height="11.6" fill="#f0e8e8"/>
    <rect x="759.2" y="60" width="2.5" height="11.6" fill="#c8c8d8"/>
    <rect x="761.7" y="60" width="4" height="11.6" fill="#d88888"/>
    <rect x="730.5" y="71.6" width="36" height="3.2" fill="#d0d0d2"/>
    <rect x="733.2" y="81" width="3" height="11" fill="#e0e4ee"/>
    <rect x="736.2" y="80" width="3.4" height="12" fill="#5a9ad8"/>
    <rect x="745.5" y="84.5" width="4.5" height="7.5" fill="#c8c0f0"/>
    <rect x="750" y="82.8" width="4.6" height="9.2" fill="#7a5cc8"/>
    <rect x="756" y="83" width="2.5" height="9" fill="#a8e0c0"/>
    <rect x="758.5" y="82.6" width="6.5" height="9.4" fill="#38a860"/>
    <rect x="730.5" y="92" width="36" height="3" fill="#d2d2d4"/>
    <rect x="730.5" y="95" width="36" height="17" fill="#e2e2e4"/>
    <rect x="756" y="104" width="7" height="7" fill="#e8e0d8"/>
    <rect x="757" y="102.5" width="5" height="2" fill="#6a70c0"/>
    <!-- woman -->
    <path d="M676 112c2-7 8-11.6 16-13.2l16-1.4 16 1.4c8 1.6 14 6.2 16 13.2z" fill="#e6c0dc"/>
    <path d="M701 99l7 13 7-13z" fill="#5a382c"/>
    <path d="M701.5 96h13v4l-6.5 6-6.5-6z" fill="#5a382c"/>
    <ellipse cx="708" cy="64" rx="14.4" ry="12.6" fill="#1c1412"/>
    <rect x="693.6" y="62" width="4" height="14" rx="2" fill="#1c1412"/>
    <rect x="718.6" y="62" width="4" height="13" rx="2" fill="#1c1412"/>
    <ellipse cx="708.4" cy="78" rx="12.9" ry="17.1" fill="url(#f1)"/>
    <path d="M696 68c2-5 6.6-7.4 12.4-7.4s10.4 2.4 12.4 7.4c-3-2.8-7.4-4-12.4-4s-9.4 1.2-12.4 4z" fill="#1c1412"/>
    <path d="M702.4 85.4c3.4 2.2 8.8 2.2 12.2 0-0.8 3.6-3 5.2-6.1 5.2s-5.3-1.6-6.1-5.2z" fill="#8a2a2a"/>
    <path d="M703.2 85.8c3 1.5 8.6 1.5 10.6 0-0.9 1.8-3 2.6-5.3 2.6s-4.4-0.8-5.3-2.6z" fill="#f6f2f0"/>
    <ellipse cx="702.3" cy="74" rx="2.1" ry="0.9" fill="#2a1a14"/>
    <ellipse cx="714.6" cy="74" rx="2.1" ry="0.9" fill="#2a1a14"/>
    </g>
    <rect x="658.1" y="92.8" width="46" height="13.5" rx="2" fill="#3c3a38" fill-opacity=".7"/>
  </g>

  <!-- ===== Tile 2: Aadi Kapoor (active speaker) ===== -->
  <rect x="653.4" y="113.3" width="112" height="62.9" fill="none" stroke="#f8a83a" stroke-width="1.7"/>
  <g clip-path="url(#c2)">
    <g filter="url(#bl)">
    <rect x="655" y="115" width="110" height="60" fill="#c6c6ca"/>
    <rect x="655" y="115" width="40" height="32" fill="#eef2f6"/>
    <path d="M662 114l7.5 27M683.5 114l-14 27" fill="none" stroke="#283040" stroke-width="2.2"/>
    <path d="M688 115v33" stroke="#5a6470" stroke-width="1.6"/>
    <rect x="655" y="145" width="42" height="30" fill="#3c4a5a"/>
    <rect x="657" y="144" width="20" height="9" fill="#7a98b8"/>
    <rect x="655" y="157" width="24" height="18" fill="#263038"/>
    <rect x="726" y="115" width="24" height="60" fill="#cfcfd3"/>
    <rect x="726" y="115" width="38" height="14" fill="#d8d8dc"/>
    <rect x="740" y="132" width="24" height="43" fill="#3a3838"/>
    <ellipse cx="754" cy="140" rx="7" ry="9" fill="#1c1a1a"/>
    <rect x="744" y="142" width="20" height="33" fill="#1a1818"/>
    <!-- body -->
    <path d="M666 176c2-14 8-25 18-30l12-4h32l10 4c6 5 8 17 9 30z" fill="#c2c2c4"/>
    <path d="M697 146l15 14 15-14-3-3h-24z" fill="#a8c2de"/>
    <path d="M702 144l10 10 10-10z" fill="#c09278"/>
    <!-- head -->
    <path d="M694 142c-2-6-1.5-12 0.5-17 2-6 8-10 17-10s15.5 4 17.5 10c2 5 2.4 11 0.4 17-1 2-2.6 2.6-4 1.4l-1-6h-26l-1 6c-1.4 1.2-3 0.6-3.4-1.4z" fill="#1e1715"/>
    <ellipse cx="711.8" cy="135.4" rx="13.2" ry="15.2" fill="url(#f2)"/>
    <path d="M698.6 126.5c1-5 6.4-7.8 13.2-7.8s12.2 2.8 13.2 7.8c-3-2.8-8-3.8-13.2-3.8s-10.2 1-13.2 3.8z" fill="#1e1715"/>
    <path d="M703.4 143c2 5 5 7.4 8.6 7.4s6.6-2.4 8.6-7.4c-2 2-5 2.6-8.6 2.6s-6.6-0.6-8.6-2.6z" fill="#3a2822"/>
    <path d="M705.8 140.4c2-1.2 4.2-1.6 6.2-0.6 2-1 4.2-0.6 6.2 0.6-2 0.8-4.2 0.8-6.2 0.4-2 0.4-4.2 0.4-6.2-0.4z" fill="#2e1e1a"/>
    <ellipse cx="706.2" cy="132" rx="1.9" ry="0.9" fill="#3a2824"/>
    <ellipse cx="717.6" cy="132" rx="1.9" ry="0.9" fill="#3a2824"/>
    </g>
    <rect x="659.8" y="159.2" width="43.9" height="12.7" rx="2" fill="#3c3a38" fill-opacity=".72"/>
  </g>

  <!-- ===== Tile 3: Charlotte de Crum ===== -->
  <g clip-path="url(#c3)">
    <g filter="url(#bl)">
    <rect x="652" y="178" width="116" height="66" fill="#dadada"/>
    <rect x="652" y="178" width="116" height="9.2" fill="#bfc6c3"/>
    <rect x="652" y="187.2" width="116" height="1" fill="#e6e6e6"/>
    <rect x="652" y="188" width="116" height="30" fill="#dedede"/>
    <rect x="652" y="217.5" width="116" height="12" fill="#9a7a5a"/>
    <path d="M653 199c6 0 11 4 11.6 11l-1.6 11" fill="none" stroke="#8a8a8a" stroke-width="1"/>
    <path d="M653 210h11" stroke="#a0a0a0" stroke-width="0.9"/>
    <rect x="668.5" y="196.6" width="12.5" height="1.8" fill="#c8b090"/>
    <path d="M670 198v20M679.5 198v20" stroke="#c4a888" stroke-width="1.1"/>
    <path d="M673.5 191.5l-1.6 5h4.6z" fill="#6a5a40"/>
    <path d="M730 192c4-2 11-1.4 13 5l2.6 9.4c-5 2-11 2-15.6 0z" fill="#f4f4f4"/>
    <path d="M733 207l-3 16M743 207l3 16M738 207v18" stroke="#b4b4b4" stroke-width="0.9"/>
    <rect x="752.5" y="209.6" width="12" height="2.2" fill="#5a88c8"/>
    <rect x="755.5" y="201.5" width="4.4" height="8.2" fill="#3a3a44"/>
    <path d="M754 212l-1 10M764 212l1 10" stroke="#9aa0b0" stroke-width="0.9"/>
    <path d="M652 221.5c6-1.5 15-1.5 21 0l1 11h-22z" fill="#161616"/>
    <path d="M745 221.5c6-1.5 15-1.5 21 0v11h-22z" fill="#161616"/>
    <rect x="652" y="232.4" width="116" height="12" fill="#e2dcd4"/><rect x="652" y="232.4" width="38" height="12" fill="#ece8e6"/><rect x="658" y="232" width="32" height="5" rx="1" fill="#6a6a6a"/>
    <!-- woman -->
    <path d="M699 203.6c-5 1.4-10.6 4-13.4 9.4-2.4 5-3 14-3.2 30h52c-0.2-16-0.8-25-3.2-30-2.8-5.4-8.4-8-13.4-9.4z" fill="#141414"/>
    <path d="M701.4 206.4l6.2 3 6.2-3 0.6 22h-13.6z" fill="#f0f0f0"/><path d="M701.4 223h12.8l0.3 5.4h-13.4z" fill="#909090"/>
    <path d="M698 236c3-2.4 12-3 18-0.6l1 5h-20z" fill="#a47464"/>
    <ellipse cx="707.4" cy="191.5" rx="8.8" ry="10" fill="#7a5a42"/>
    <ellipse cx="708" cy="195" rx="6.8" ry="8.8" fill="#e2c0ac"/>
    <path d="M699 193c-0.4-8 3.4-12 8.6-12 6 0 9.4 4 9.4 10-3-4-6.4-5.4-9.4-4.6-3 0.8-6 3-8.6 6.6z" fill="#8a6a4c"/>
    <path d="M703.5 203.5h9v4h-9z" fill="#d8b4a0"/>
    </g>
    
  </g>

  <!-- ===== Tile 4: gallery of avatars ===== -->
  <rect x="652.8" y="243.1" width="113.2" height="122" fill="url(#dk)"/>
  <!-- Beth -->
  <circle cx="681.5" cy="272.7" r="14.8" fill="#262528"/>
  <g clip-path="url(#cb)"><g filter="url(#bl)">
    <rect x="666" y="257" width="32" height="32" fill="#4a6028"/>
    <circle cx="671" cy="264" r="6" fill="#6a8236"/>
    <circle cx="692" cy="264" r="6" fill="#9a6a50"/>
    <circle cx="693" cy="279" r="6" fill="#3e5222"/>
    <circle cx="669" cy="279" r="5" fill="#5a7430"/>
    <path d="M671 290c2-6 6-9 10.5-9s8.5 3 10.5 9z" fill="#b4a4e2"/>
    <ellipse cx="681.3" cy="269.5" rx="7.6" ry="7.4" fill="#5a3a2a"/>
    <ellipse cx="681.6" cy="274.6" rx="5.2" ry="7" fill="#e2b29a"/>
    <path d="M675 271c1-5 3.6-7 6.6-7s5.6 2 6.6 7c-2-2.6-4.4-3.4-6.6-3.4s-4.6 0.8-6.6 3.4z" fill="#5a3a2a"/>
  </g></g>
  <!-- Cassandra -->
  <circle cx="737.3" cy="273.1" r="21.3" fill="#161616"/>
  <circle cx="737.3" cy="273.1" r="20.5" fill="none" stroke="#9da3f4" stroke-width="1.5"/>
  <g clip-path="url(#cc)"><g filter="url(#bl)">
    <rect x="719" y="255" width="38" height="38" fill="#2e2a28"/>
    <path d="M721 266c3-2.4 6-2 8.4 0.6l-3.4 3z" fill="#f2d898"/>
    <path d="M726 293c-2-16 0-33 13-34.6 13 1.6 15 18.6 13 34.6z" fill="#bc9c7c"/>
    <path d="M731 293c1-6 4-9 8.4-9s7.4 3 8.4 9z" fill="#d8b8a4"/>
    <ellipse cx="739.4" cy="271" rx="7.4" ry="11.2" fill="#ecccba"/>
    <path d="M730.6 270c0-8 4-12.6 8.8-12.6 5.2 0 8.8 4.6 8.8 12.6-2.4-5.6-5.2-7.6-8.8-7.6s-6.4 2-8.8 7.6z" fill="#cbab8c"/>
    <ellipse cx="736" cy="268.4" rx="1.5" ry="0.7" fill="#6a6070"/>
    <ellipse cx="742.6" cy="268.4" rx="1.5" ry="0.7" fill="#6a6070"/>
    <path d="M736.8 277.8c1.8 0.8 3.6 0.8 5.4 0" stroke="#c07070" stroke-width="1.1"/>
  </g></g>
  <!-- MJ -->
  <circle cx="681.6" cy="328.8" r="14.8" fill="#1c1c1e"/>
  <g clip-path="url(#cm)"><g filter="url(#bl)">
    <rect x="666" y="313" width="32" height="32" fill="#e6e2da"/>
    <rect x="666" y="313" width="8" height="32" fill="#1e3a6a"/>
    <rect x="674" y="313" width="3.4" height="22" fill="#d8b060"/>
    <path d="M668 345c1-7 6-10.6 13.6-10.6s12 3.6 13.4 10.6z" fill="#c6cede"/>
    <ellipse cx="682.4" cy="323" rx="7" ry="7.4" fill="#d8b078"/>
    <ellipse cx="682.6" cy="326.4" rx="5.4" ry="7.4" fill="#ecc6aa"/>
  </g></g>
  <!-- David -->
  <circle cx="737.7" cy="328.8" r="15.2" fill="#1c1c1e"/>
  <g clip-path="url(#cd)"><g filter="url(#bl)">
    <rect x="722" y="313" width="32" height="32" fill="#e8e6e0"/>
    <rect x="745" y="313" width="9" height="24" fill="#f6f6f4"/>
    <path d="M722 346c2-6.4 8-9.6 15.6-9.6s13.6 3.2 15.6 9.6z" fill="#1e3868"/>
    <ellipse cx="738.6" cy="325.4" rx="8" ry="9.8" fill="#d8a890"/>
    <path d="M730.6 323.6h16" stroke="#3a3a3a" stroke-width="1.1"/>
    <path d="M734 330c2 2 6 2 8 0" stroke="#f0f0f0" stroke-width="1"/>
  </g></g>

  <!-- ===== Tile 5: bottom woman ===== -->
  <g clip-path="url(#c5)">
    <g filter="url(#bl)">
    <rect x="652" y="366" width="116" height="66" fill="url(#w5)"/>
    <rect x="652" y="391" width="116" height="16" fill="#e2ded8"/>
    <rect x="653.5" y="392" width="2.6" height="14.5" fill="#8a98a8"/>
    <rect x="656.4" y="391" width="2.2" height="15.5" fill="#3a4a6a"/>
    <rect x="659" y="393" width="2.8" height="13.5" fill="#b0b0b0"/>
    <rect x="662" y="394" width="3.6" height="12.5" fill="#d8d0c4"/>
    <rect x="722.5" y="395" width="2" height="12" fill="#c84068"/>
    <rect x="725" y="394" width="2" height="13" fill="#4a5268"/>
    <rect x="727.5" y="395" width="2.4" height="12" fill="#a0a8b8"/>
    <rect x="730.5" y="394.5" width="1.6" height="12.5" fill="#707070"/>
    <rect x="733" y="395" width="2.4" height="12" fill="#b8b8b8"/>
    <rect x="736" y="395" width="2" height="12" fill="#606870"/>
    <rect x="739" y="395" width="2.4" height="12" fill="#c0c0c0"/>
    <rect x="742" y="395.5" width="1.8" height="11.5" fill="#808890"/>
    <path d="M749 391l8 9M753 389l9 10" stroke="#78a8a8" stroke-width="1.8"/>
    <rect x="755" y="399" width="10" height="8" fill="#f0eee8"/>
    <path d="M662.2 395c0-7 4-11 9.4-11s9.4 4 9.4 11z" fill="#f4f2ee"/>
    <rect x="669.6" y="394" width="4" height="13" fill="#f0eeea"/>
    <rect x="652" y="406.5" width="116" height="4.8" fill="#f0ece6"/>
    <rect x="652" y="411.2" width="116" height="20" fill="#e6e1da"/>
    <path d="M660 430l2-12h10l2 12z" fill="#dedad4" stroke="#c8c4be" stroke-width="0.6"/>
    <!-- woman -->
    <path d="M672 432l5-12c2-6 5-12 9-14l4-2 3 28z" fill="#e0b298"/>
    <path d="M749 432l-5-12c-2-6-5-12-9-14l-4-2-3 28z" fill="#e0b298"/>
    <path d="M686 432c-1-10-1-18 0-24l2-4 10-3h26l10 3 2 4c1 6 1 14 0 24z" fill="#b27a4a"/>
    <path d="M710.6 371c-9.6 0-14.4 7-14.6 16-0.2 8-3 16-6.4 23l9.6 2.4c2.4-5 3.6-10 4.4-15.4h14.4c0.8 5.4 2 10.4 4.4 15.4l9.6-2.4c-3.4-7-6.2-15-6.4-23-0.2-9-5-16-15-16z" fill="#c07a48"/>
    <path d="M706 394h9.4v10h-9.4z" fill="#deb098"/>
    <path d="M700 404.4l10.7 3.6 10.7-3.6-2-2.4h-17.4z" fill="#d8a888"/>
    <ellipse cx="710.8" cy="387" rx="7.6" ry="9.4" fill="#eac2a8"/>
    <path d="M701.4 389c-1-10 3.4-15 9.4-15s10.6 5 9.6 15c-1.6-6-4.6-9.6-9.6-9.6-4.6 0-7.8 3.6-9.4 9.6z" fill="#c07a48"/>
    </g>
  </g>
</svg>
<!-- video labels -->
<div class="t" style="left:661.7px;top:96.1px;font-size:8px;color:#fff;-webkit-text-stroke:0.3px #fff;transform:scaleX(.818)">Serena Davis</div>
<div class="t" style="left:662.4px;top:162.3px;font-size:8px;color:#fff;-webkit-text-stroke:0.3px #fff;transform:scaleX(.848)">Aadi Kapoor</div>
<div class="t" style="left:661.5px;top:228.8px;font-size:8px;color:#fff;-webkit-text-stroke:0.3px #fff;transform:scaleX(.865)">Charlotte de Crum</div>
<div class="t" style="left:669px;top:290.6px;font-size:5.4px;font-weight:bold;color:#fff;transform:scaleX(.796)">Beth Davies</div>
<div class="a" style="left:718px;top:296px;width:38.2px;height:8.5px;background:#161616;border-radius:1px"></div>
<div class="t" style="left:720.6px;top:297.5px;font-size:5.4px;color:#fff;-webkit-text-stroke:0.2px #fff;transform:scaleX(.828)">Cassandra Dunn</div>
<div class="t" style="left:672.8px;top:346.8px;font-size:5.4px;font-weight:bold;color:#fff;transform:scaleX(.765)">MJ Price</div>
<div class="t" style="left:724.6px;top:346.8px;font-size:5.4px;font-weight:bold;color:#fff;transform:scaleX(.789)">David Power</div>

</body></html>
